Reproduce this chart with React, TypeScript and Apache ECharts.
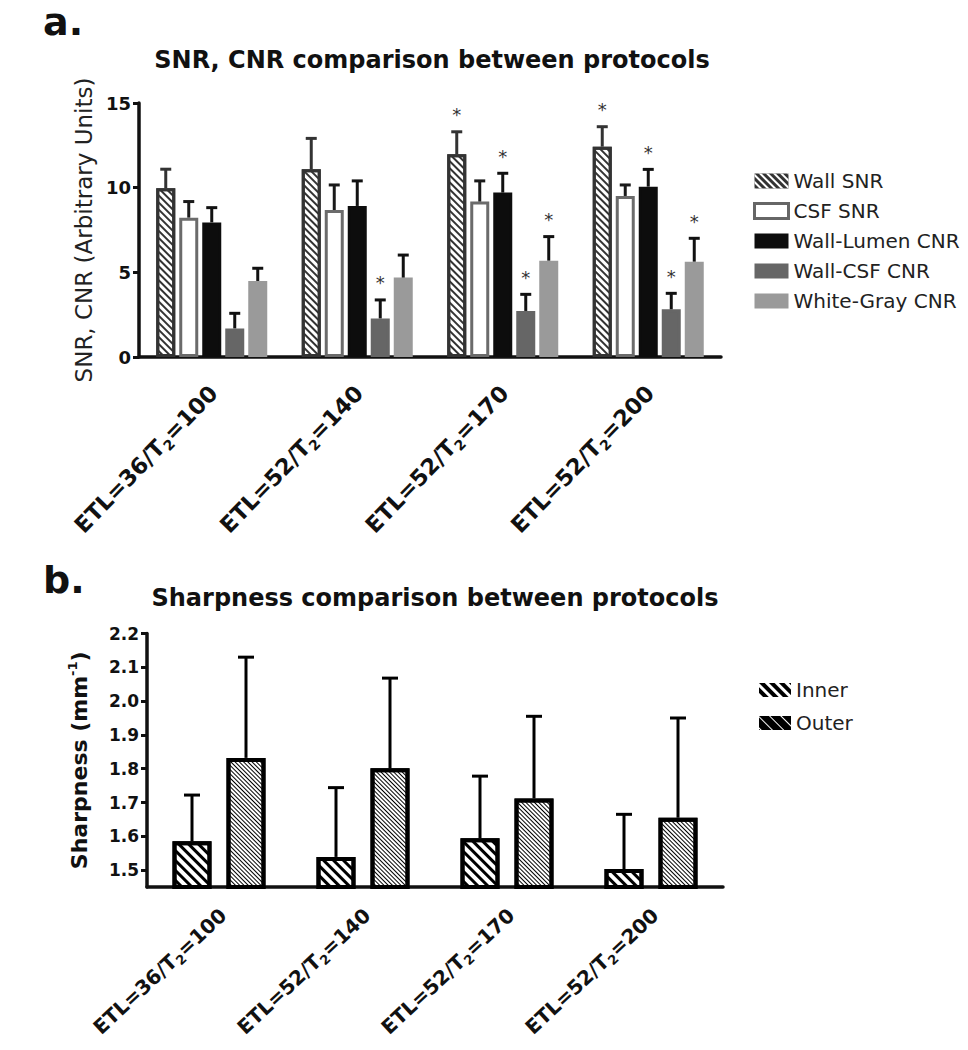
import React, { useEffect, useRef } from 'react';
import * as echarts from 'echarts';

// ---------- data ----------
const protocolETL = ['36', '52', '52', '52'];
const protocolT2 = ['100', '140', '170', '200'];
const protocolLabels = ['ETL=36/T2=100', 'ETL=52/T2=140', 'ETL=52/T2=170', 'ETL=52/T2=200'];

const seriesNamesA = ['Wall SNR', 'CSF SNR', 'Wall-Lumen CNR', 'Wall-CSF CNR', 'White-Gray CNR'];
const wallSnrMean = [9.96, 11.09, 11.97, 12.42];
const wallSnrSD = [1.13, 1.82, 1.33, 1.18];
const csfSnrMean = [8.23, 8.68, 9.18, 9.51];
const csfSnrSD = [0.95, 1.48, 1.22, 0.65];
const lumenCnrMean = [7.95, 8.92, 9.71, 10.06];
const lumenCnrSD = [0.87, 1.48, 1.14, 1.02];
const wallCsfCnrMean = [1.69, 2.28, 2.72, 2.82];
const wallCsfCnrSD = [0.89, 1.09, 0.98, 0.94];
const whiteGrayCnrMean = [4.49, 4.69, 5.69, 5.63];
const whiteGrayCnrSD = [0.75, 1.33, 1.42, 1.38];
// significance markers (*) per bar
const wallSnrSig = [0, 0, 1, 1];
const csfSnrSig = [0, 0, 0, 0];
const lumenCnrSig = [0, 0, 1, 1];
const wallCsfCnrSig = [0, 1, 1, 1];
const whiteGrayCnrSig = [0, 0, 1, 1];
const yTicksA = [0, 5, 10, 15];

const seriesNamesB = ['Inner', 'Outer'];
const innerMean = [1.585, 1.539, 1.594, 1.503];
const innerSD = [0.137, 0.205, 0.184, 0.162];
const outerMean = [1.832, 1.801, 1.712, 1.655];
const outerSD = [0.298, 0.267, 0.243, 0.295];
const yTicksB = [1.5, 1.6, 1.7, 1.8, 1.9, 2.0, 2.1, 2.2];

const titleA = 'SNR, CNR comparison between protocols';
const titleB = 'Sharpness comparison between protocols';
const yNameA = 'SNR, CNR (Arbitrary Units)';

// ---------- styles ----------
const FONT = "'DejaVu Sans', 'Liberation Sans', Arial, sans-serif";
const INK = '#111111';

function barOffset(i: number, n: number, bw: number, gap: number) {
  const total = n * bw + (n - 1) * gap;
  return -total / 2 + i * (bw + gap) + bw / 2;
}

function makeErr(offset: number, color: string, capW: number, lw: number) {
  return (params: any, api: any) => {
    const c = api.value(0);
    const m = api.value(1);
    const sd = api.value(2);
    const sig = api.value(3);
    const p0 = api.coord([c, m]);
    const p1 = api.coord([c, m + sd]);
    const x = p0[0] + offset;
    const children: any[] = [
      { type: 'line', shape: { x1: x, y1: p0[1], x2: x, y2: p1[1] }, style: { stroke: color, lineWidth: lw } },
      { type: 'line', shape: { x1: x - capW / 2, y1: p1[1], x2: x + capW / 2, y2: p1[1] }, style: { stroke: color, lineWidth: lw } },
    ];
    if (sig) {
      children.push({
        type: 'text',
        x: x,
        y: p1[1] - 17,
        style: { text: '*', fontSize: 18, fontFamily: FONT, fill: '#333333', align: 'center', verticalAlign: 'middle' },
      });
    }
    return { type: 'group', children };
  };
}

export default function App() {
  const ref = useRef<HTMLDivElement>(null);
  useEffect(() => {
    const chart = echarts.init(ref.current!, null, { renderer: 'svg' });

    const meansA = [wallSnrMean, csfSnrMean, lumenCnrMean, wallCsfCnrMean, whiteGrayCnrMean];
    const sdsA = [wallSnrSD, csfSnrSD, lumenCnrSD, wallCsfCnrSD, whiteGrayCnrSD];
    const sigA = [wallSnrSig, csfSnrSig, lumenCnrSig, wallCsfCnrSig, whiteGrayCnrSig];
    const fillA = ['#ffffff', '#ffffff', '#0d0d0d', '#666666', '#9a9a9a'];
    const borderA = ['#333333', '#6b6b6b', '#0d0d0d', '#666666', '#9a9a9a'];
    const errColA = ['#333333', '#1a1a1a', '#111111', '#111111', '#111111'];
    const bwA = 19;
    const gapA = 4;

    const meansB = [innerMean, outerMean];
    const sdsB = [innerSD, outerSD];
    const bwB = 39;
    const gapB = 15;

    const decalWall = { symbol: 'rect', symbolSize: 1, dashArrayX: [1, 0], dashArrayY: [2, 2.5], rotation: Math.PI / 4, color: '#333333' };
    const decalInner = { symbol: 'rect', symbolSize: 1, dashArrayX: [1, 0], dashArrayY: [3, 3.5], rotation: Math.PI / 4, color: '#000000' };
    const decalOuter = { symbol: 'rect', symbolSize: 1, dashArrayX: [1, 0], dashArrayY: [1, 1.8], rotation: Math.PI / 4, color: '#000000' };

    const makeRich = (fs: number, sfs: number) => ({
      a: { fontFamily: FONT, fontWeight: 'bold', fontSize: fs, lineHeight: fs + 5, color: INK },
      s: { fontFamily: FONT, fontWeight: 'bold', fontSize: sfs, lineHeight: sfs - 1, color: INK, verticalAlign: 'bottom' },
    });
    const xFmt = (_v: string, i: number) => `{a|ETL=${protocolETL[i]}/T}{s|2}{a|=${protocolT2[i]}}`;

    const xAxisBase = (gridIndex: number, margin: number, rotate: number, pad: number, rich: any) => ({
      type: 'category',
      gridIndex,
      data: protocolLabels,
      axisLine: { lineStyle: { color: INK, width: 3.5 } },
      axisTick: { alignWithLabel: true, length: 8, lineStyle: { width: 3, color: INK } },
      axisLabel: {
        rotate, interval: 0, margin, align: 'right', verticalAlign: 'top',
        padding: [0, pad, 0, 0], formatter: xFmt, rich,
      },
      splitLine: { show: false },
    });

    const option: any = {
      animation: false,
      backgroundColor: '#ffffff',
      textStyle: { fontFamily: FONT },
      grid: [
        { left: 139, top: 103, width: 582, height: 254, containLabel: false, outerBoundsMode: 'none' },
        { left: 147, top: 633.5, width: 576, height: 253.5, containLabel: false, outerBoundsMode: 'none' },
      ],
      xAxis: [
        xAxisBase(0, 14, 46, 12, makeRich(22.5, 14)),
        xAxisBase(1, 12, 43, 6, makeRich(20, 13)),
      ],
      yAxis: [
        {
          type: 'value', gridIndex: 0, min: 0, max: 15, interval: 5,
          name: yNameA, nameLocation: 'middle', nameGap: 43,
          nameTextStyle: { fontSize: 23, color: '#222', fontFamily: FONT },
          axisLine: { show: true, lineStyle: { color: INK, width: 3.5 } },
          axisTick: { show: true, length: 6, lineStyle: { width: 3, color: INK } },
          axisLabel: { margin: 8, fontSize: 18, fontWeight: 'bold', color: INK, fontFamily: FONT },
          splitLine: { show: false },
        },
        {
          type: 'value', gridIndex: 1, min: 1.45, max: 2.2,
          name: '{a|Sharpness (mm}{s|-1}{a|)}', nameLocation: 'middle', nameGap: 55,
          nameTextStyle: {
            rich: {
              a: { fontSize: 22, fontWeight: 'bold', lineHeight: 26, color: INK, fontFamily: FONT },
              s: { fontSize: 13, fontWeight: 'bold', lineHeight: 13, color: INK, fontFamily: FONT, verticalAlign: 'top' },
            },
          },
          axisLine: { show: true, lineStyle: { color: INK, width: 3.5 } },
          axisTick: { show: true, length: 6, lineStyle: { width: 3, color: INK }, customValues: yTicksB },
          axisLabel: {
            margin: 8, fontSize: 17, fontWeight: 'bold', color: INK, fontFamily: FONT,
            customValues: yTicksB, formatter: (v: number) => v.toFixed(1),
          },
          splitLine: { show: false },
        },
      ],
      legend: [
        {
          orient: 'vertical', left: 748, top: 166, itemWidth: 34, itemHeight: 15, itemGap: 10,
          icon: 'rect', selectedMode: false,
          textStyle: { fontSize: 20, color: '#222', fontFamily: FONT },
          data: [
            { name: 'Wall SNR', itemStyle: { color: '#333333', borderWidth: 0, decal: { ...decalWall, color: '#ffffff' } } },
            { name: 'CSF SNR', itemStyle: { color: '#ffffff', borderColor: '#666666', borderWidth: 3 } },
            { name: 'Wall-Lumen CNR', itemStyle: { color: '#0d0d0d', borderWidth: 0 } },
            { name: 'Wall-CSF CNR', itemStyle: { color: '#666666', borderWidth: 0 } },
            { name: 'White-Gray CNR', itemStyle: { color: '#9a9a9a', borderWidth: 0 } },
          ],
        },
        {
          orient: 'vertical', left: 754, top: 675, itemWidth: 32, itemHeight: 14, itemGap: 13,
          icon: 'rect', selectedMode: false,
          textStyle: { fontSize: 20, color: '#222', fontFamily: FONT },
          data: [
            { name: 'Inner', itemStyle: { color: '#000000', borderWidth: 0, decal: { ...decalInner, color: '#ffffff' } } },
            { name: 'Outer', itemStyle: { color: '#000000', borderWidth: 0, decal: { ...decalOuter, dashArrayY: [1, 7], color: '#ffffff' } } },
          ],
        },
      ],
      graphic: [
        { type: 'text', x: 43, y: 22, style: { text: 'a.', fontSize: 38, fontWeight: 'bold', fontFamily: FONT, fill: INK, verticalAlign: 'middle' } },
        { type: 'text', x: 432, y: 60, style: { text: titleA, fontSize: 24, fontWeight: 'bold', fontFamily: FONT, fill: INK, align: 'center', verticalAlign: 'middle' } },
        { type: 'text', x: 43, y: 580, style: { text: 'b.', fontSize: 38, fontWeight: 'bold', fontFamily: FONT, fill: INK, verticalAlign: 'middle' } },
        { type: 'text', x: 435, y: 598, style: { text: titleB, fontSize: 24, fontWeight: 'bold', fontFamily: FONT, fill: INK, align: 'center', verticalAlign: 'middle' } },
      ],
      series: [
        ...seriesNamesA.map((name, i) => ({
          type: 'bar', name, xAxisIndex: 0, yAxisIndex: 0, data: meansA[i],
          barWidth: bwA, barGap: `${(gapA / bwA) * 100}%`,
          itemStyle: i === 0
            ? { color: fillA[i], borderColor: borderA[i], borderWidth: 3, decal: decalWall }
            : { color: fillA[i], borderColor: borderA[i], borderWidth: 3 },
          emphasis: { disabled: true },
          silent: true,
        })),
        ...seriesNamesA.map((name, i) => ({
          type: 'custom', name: name + ' SD', xAxisIndex: 0, yAxisIndex: 0, z: 5, silent: true,
          data: meansA[i].map((m, j) => [j, m, sdsA[i][j], sigA[i][j]]),
          encode: { x: 0, y: 1 },
          renderItem: makeErr(barOffset(i, 5, bwA, gapA), errColA[i], 11, 3),
        })),
        ...seriesNamesB.map((name, i) => ({
          type: 'bar', name, xAxisIndex: 1, yAxisIndex: 1, data: meansB[i],
          barWidth: bwB, barGap: `${(gapB / bwB) * 100}%`,
          itemStyle: { color: '#ffffff', borderColor: '#000000', borderWidth: 4, decal: i === 0 ? decalInner : decalOuter },
          emphasis: { disabled: true },
          silent: true,
        })),
        ...seriesNamesB.map((name, i) => ({
          type: 'custom', name: name + ' SD', xAxisIndex: 1, yAxisIndex: 1, z: 5, silent: true,
          data: meansB[i].map((m, j) => [j, m, sdsB[i][j], 0]),
          encode: { x: 0, y: 1 },
          renderItem: makeErr(barOffset(i, 2, bwB, gapB), '#000000', 16, 3),
        })),
      ],
    };

    chart.setOption(option);
    return () => chart.dispose();
  }, []);

  return (
    <div
      ref={ref}
      style={{ position: 'absolute', left: 0, top: 0, width: 968, height: 1050, background: '#fff' }}
    />
  );
}
